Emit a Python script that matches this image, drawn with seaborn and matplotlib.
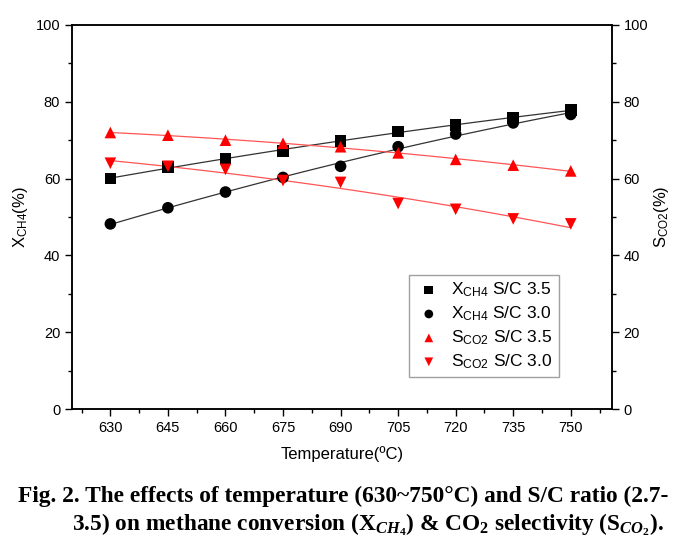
import matplotlib
matplotlib.use("Agg")
import matplotlib.pyplot as plt
import seaborn as sns
import numpy as np
import pandas as pd

temps = [630, 645, 660, 675, 690, 705, 720, 735, 750]
x_ch4_35 = [60.0, 63.0, 65.2, 67.2, 69.8, 72.3, 74.0, 75.8, 77.8]
x_ch4_30 = [48.2, 52.4, 56.5, 60.3, 63.2, 68.3, 71.6, 74.5, 76.7]
s_co2_35 = [72.0, 71.3, 70.0, 69.2, 68.3, 66.7, 65.0, 63.5, 62.0]
s_co2_30 = [64.0, 63.2, 62.4, 59.5, 59.0, 53.5, 52.0, 49.5, 48.2]
labels = [r"X$_{\mathregular{CH4}}$ S/C 3.5", r"X$_{\mathregular{CH4}}$ S/C 3.0",
          r"S$_{\mathregular{CO2}}$ S/C 3.5", r"S$_{\mathregular{CO2}}$ S/C 3.0"]
xticks = [630, 645, 660, 675, 690, 705, 720, 735, 750]
yticks = [0, 20, 40, 60, 80, 100]

sns.set_style("ticks")
plt.rcParams["font.family"] = ["Liberation Sans", "DejaVu Sans"]
plt.rcParams["mathtext.default"] = "regular"
plt.rcParams["mathtext.fontset"] = "custom"
plt.rcParams["mathtext.it"] = "Liberation Serif:italic:bold"
plt.rcParams["mathtext.rm"] = "Liberation Serif:bold"
plt.rcParams["axes.edgecolor"] = "black"
plt.rcParams["xtick.color"] = "black"
plt.rcParams["ytick.color"] = "black"
plt.rcParams["text.color"] = "black"
plt.rcParams["axes.labelcolor"] = "black"

fig = plt.figure(figsize=(6.89, 5.49), dpi=100)
ax = fig.add_axes([0.1045, 0.255, 0.7835, 0.6995])

series = [x_ch4_35, x_ch4_30, s_co2_35, s_co2_30]
markers = ["s", "o", "^", "v"]
colors = ["black", "black", "red", "red"]
line_colors = ["#333333", "#333333", "#ff5555", "#ff5555"]

for vals, m, c, lc, lab in zip(series, markers, colors, line_colors, labels):
    df = pd.DataFrame({"T": temps, "v": vals})
    sns.regplot(data=df, x="T", y="v", order=2, ci=None, scatter=False,
                truncate=True, ax=ax, line_kws={"color": lc, "lw": 0.9})
    sns.scatterplot(data=df, x="T", y="v", marker=m, color=c, s=70,
                    edgecolor="none", ax=ax, label=lab, zorder=3)

ax.set_xlim(620, 760.7)
ax.set_ylim(0, 100)
ax.set_xticks(xticks)
ax.set_xticks([622.5 + 15 * i for i in range(10)], minor=True)
ax.set_yticks(yticks)
ax.set_yticks([10, 30, 50, 70, 90], minor=True)
ax.tick_params(which="major", direction="out", length=5, width=1, labelsize=10.5)
ax.tick_params(which="minor", direction="out", length=3, width=1)
ax.set_xlabel("Temperature(ºC)", fontsize=12, labelpad=8)
ax.set_ylabel(r"X$_{\mathregular{CH4}}$(%)", fontsize=12, labelpad=4)
for s in ax.spines.values():
    s.set_linewidth(1.1)

ax2 = ax.twinx()
ax2.set_ylim(0, 100)
ax2.set_yticks(yticks)
ax2.set_yticks([10, 30, 50, 70, 90], minor=True)
ax2.tick_params(which="major", direction="out", length=5, width=1, labelsize=10.5)
ax2.tick_params(which="minor", direction="out", length=3, width=1)
ax2.set_ylabel(r"S$_{\mathregular{CO2}}$(%)", fontsize=12, rotation=90, labelpad=3)
for s in ax2.spines.values():
    s.set_linewidth(1.1)

leg = ax.legend(loc="lower left", bbox_to_anchor=(0.624, 0.083), fontsize=12.5,
                frameon=True, fancybox=False, edgecolor="#888888",
                handletextpad=0.5, borderpad=0.35, labelspacing=0.3,
                markerscale=0.75, handlelength=1.6, borderaxespad=0)
leg.get_frame().set_linewidth(1.0)

fig.text(0.026, 0.085,
         "Fig. 2. The effects of temperature (630~750°C) and S/C ratio (2.7-",
         fontsize=16.8, fontweight="bold", family="Liberation Serif")
fig.text(0.104, 0.034,
         r"3.5) on methane conversion (X$_{\mathit{CH_4}}$) & CO$_2$ selectivity (S$_{\mathit{CO_2}}$).",
         fontsize=16.8, fontweight="bold", family="Liberation Serif")

fig.savefig("out.png", dpi=100)
